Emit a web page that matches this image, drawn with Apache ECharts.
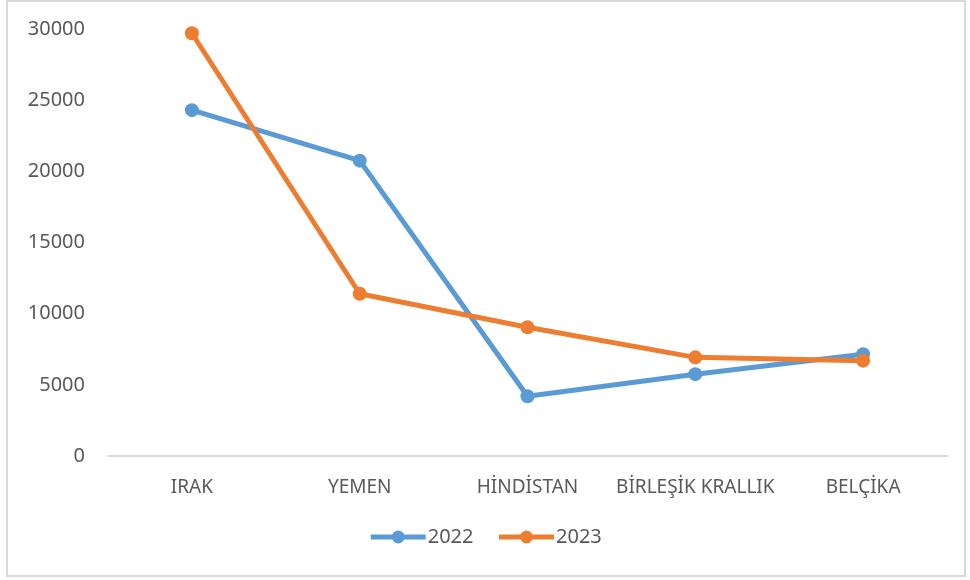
<!DOCTYPE html>
<html>
<head>
<meta charset="utf-8">
<script src="https://cdn.jsdelivr.net/npm/echarts@6/dist/echarts.min.js"></script>
<style>
  html, body { margin: 0; padding: 0; background: #fff; }
  #chart { width: 970px; height: 580px; }
</style>
</head>
<body>
<div id="chart"></div>
<script>
  // ülkeler ve yıllara göre değerler
  var categories = ['IRAK', 'YEMEN', 'HİNDİSTAN', 'BİRLEŞİK KRALLIK', 'BELÇİKA'];
  var values2022 = [24300, 20750, 4200, 5750, 7150];
  var values2023 = [29700, 11400, 9050, 6930, 6700];
  var yTicks = [0, 5000, 10000, 15000, 20000, 25000, 30000];

  var font = '"Noto Sans", "Open Sans", sans-serif';
  var myChart = echarts.init(document.getElementById('chart'));

  myChart.setOption({
    animation: false,
    graphic: [{
      type: 'rect',
      shape: { x: 7, y: 1, width: 958, height: 575 },
      style: { fill: 'none', stroke: '#d9d9d9', lineWidth: 2 },
      silent: true
    }],
    grid: { left: 108, right: 23, top: 29, bottom: 124 },
    legend: {
      data: ['2022', '2023'],
      bottom: 28,
      left: 'center',
      itemWidth: 55,
      itemHeight: 16,
      itemGap: 23,
      lineStyle: { width: 5 },
      textStyle: { fontFamily: font, fontSize: 20, color: '#595959', padding: [0, 0, 0, -3] }
    },
    xAxis: {
      type: 'category',
      data: categories,
      boundaryGap: true,
      axisLine: { lineStyle: { color: '#d9d9d9', width: 2 } },
      axisTick: { show: false },
      axisLabel: { fontFamily: font, fontSize: 19, color: '#595959', margin: 22, interval: 0 }
    },
    yAxis: {
      type: 'value',
      min: yTicks[0],
      max: yTicks[yTicks.length - 1],
      interval: yTicks[1] - yTicks[0],
      axisLine: { show: false },
      axisTick: { show: false },
      splitLine: { show: false },
      axisLabel: {
        fontFamily: font, fontSize: 20, color: '#595959', margin: 23,
        formatter: function (v) { return String(v); }
      }
    },
    series: [
      {
        name: '2022',
        type: 'line',
        data: values2022,
        symbol: 'circle',
        symbolSize: 14,
        lineStyle: { width: 5, color: '#5B9BD5' },
        itemStyle: { color: '#5B9BD5' }
      },
      {
        name: '2023',
        type: 'line',
        data: values2023,
        symbol: 'circle',
        symbolSize: 14,
        lineStyle: { width: 5, color: '#ED7D31' },
        itemStyle: { color: '#ED7D31' }
      }
    ]
  });
</script>
</body>
</html>
